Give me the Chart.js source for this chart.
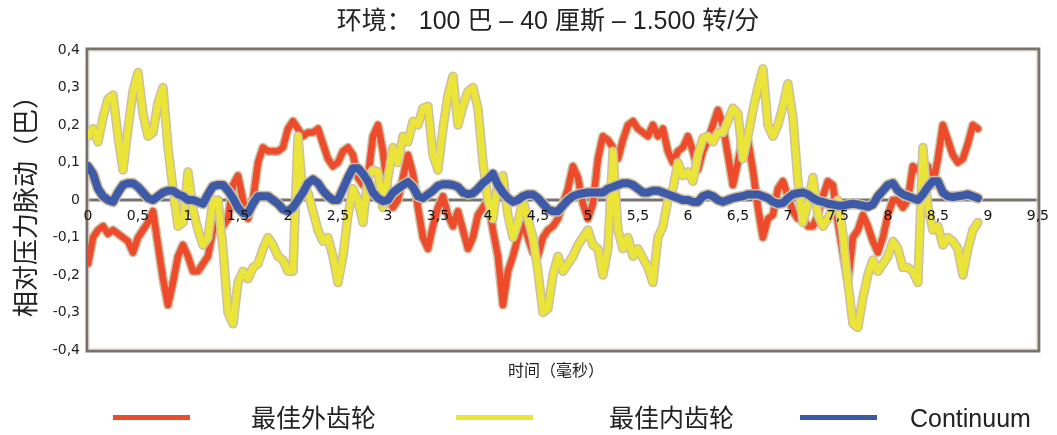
<!DOCTYPE html>
<html>
<head>
<meta charset="utf-8">
<script src="https://cdn.jsdelivr.net/npm/chart.js@4.4.0/dist/chart.umd.min.js"></script>
<style>
  html, body { margin: 0; padding: 0; background: #fff; }
  #wrap { position: relative; width: 1057px; height: 435px; }
  #legend { position: absolute; left: 0; top: 403px; width: 1057px; height: 30px;
    font-family: "Liberation Sans", "Noto Sans CJK SC", sans-serif; font-size: 25px; color: #222; }
  .swatch { position: absolute; top: 12px; width: 77px; height: 5px; }
  .label { position: absolute; top: 0; line-height: 30px; white-space: nowrap; }
</style>
</head>
<body>
<div id="wrap">
  <canvas id="chart" width="1057" height="435"></canvas>
  <div id="legend"></div>
</div>
<script>
const sampleStep = 0.05;

const outerGear = [
  -0.17,-0.10,-0.08,-0.07,-0.09,-0.08,-0.09,-0.10,-0.11,-0.14,
  -0.10,-0.08,-0.06,-0.03,-0.12,-0.21,-0.28,-0.22,-0.15,-0.12,
  -0.15,-0.19,-0.19,-0.17,-0.15,-0.08,-0.06,-0.07,-0.05,0.04,
  0.065,0.0,-0.05,0.0,0.10,0.14,0.13,0.13,0.13,0.14,
  0.19,0.21,0.19,0.17,0.18,0.18,0.19,0.15,0.11,0.09,
  0.10,0.13,0.14,0.12,0.06,0.04,0.06,0.17,0.20,0.13,
  0.02,-0.02,0.0,0.06,0.12,0.07,-0.02,-0.10,-0.13,-0.07,
  -0.02,0.01,-0.04,-0.07,-0.03,-0.08,-0.13,-0.10,-0.04,-0.02,
  0.0,-0.08,-0.15,-0.28,-0.19,-0.15,-0.10,-0.06,-0.10,-0.14,
  -0.15,-0.10,-0.08,-0.07,-0.05,-0.01,0.03,0.09,0.06,-0.01,
  -0.05,-0.01,0.11,0.17,0.16,0.14,0.11,0.16,0.20,0.21,
  0.19,0.18,0.17,0.20,0.17,0.19,0.13,0.10,0.13,0.14,
  0.17,0.13,0.08,0.13,0.16,0.20,0.24,0.20,0.12,0.04,
  0.10,0.17,0.16,0.08,-0.02,-0.10,-0.05,-0.04,0.03,0.05,
  0.01,-0.03,-0.05,-0.05,-0.07,-0.07,-0.04,0.01,0.05,0.04,
  -0.06,-0.14,-0.22,-0.10,-0.08,-0.04,-0.07,-0.11,-0.14,-0.10,
  -0.04,0.0,0.0,-0.02,0.0,0.09,0.08,0.10,0.09,0.04,
  0.11,0.20,0.16,0.12,0.10,0.11,0.15,0.20,0.19
];

const innerGear = [
  0.17,0.19,0.155,0.22,0.27,0.28,0.17,0.08,0.19,0.29,
  0.34,0.23,0.17,0.18,0.26,0.30,0.14,0.03,-0.07,-0.06,
  0.075,-0.025,-0.08,-0.12,-0.10,0.0,0.0,-0.13,-0.30,-0.33,
  -0.22,-0.19,-0.21,-0.18,-0.17,-0.13,-0.10,-0.12,-0.15,-0.16,
  -0.19,-0.19,0.17,0.01,0.02,-0.03,-0.08,-0.11,-0.10,-0.15,
  -0.22,-0.15,-0.04,0.03,0.0,-0.06,0.06,0.08,0.075,-0.02,
  0.06,0.14,0.10,0.17,0.155,0.21,0.20,0.245,0.25,0.12,
  0.08,0.19,0.28,0.33,0.20,0.25,0.29,0.30,0.245,0.10,
  0.0,-0.05,0.05,0.065,-0.04,-0.10,-0.06,0.0,-0.05,-0.10,
  -0.19,-0.30,-0.29,-0.20,-0.15,-0.19,-0.17,-0.15,-0.12,-0.10,
  -0.08,-0.12,-0.13,-0.20,-0.13,0.13,-0.08,-0.13,-0.10,-0.15,
  -0.13,-0.155,-0.18,-0.22,-0.10,-0.07,0.0,0.03,0.10,0.065,
  0.075,0.05,0.12,0.165,0.17,0.155,0.18,0.18,0.21,0.245,
  0.23,0.11,0.17,0.24,0.30,0.35,0.20,0.17,0.20,0.25,
  0.31,0.22,0.05,-0.06,-0.01,0.06,-0.04,-0.07,-0.05,-0.02,
  0.0,-0.09,-0.22,-0.33,-0.34,-0.26,-0.20,-0.16,-0.19,-0.17,
  -0.15,-0.11,-0.13,-0.18,-0.18,-0.19,-0.22,0.14,-0.02,-0.08,
  -0.07,-0.12,-0.10,-0.11,-0.13,-0.20,-0.13,-0.08,-0.06
];

const continuum = [
  0.09,0.07,0.03,0.01,0.0,-0.005,0.02,0.04,0.045,0.045,
  0.035,0.02,0.005,0.0,0.01,0.02,0.025,0.025,0.015,0.01,
  0.0,0.0,-0.005,-0.01,0.015,0.037,0.04,0.04,0.025,0.005,
  -0.02,-0.035,-0.035,-0.01,0.01,0.01,0.01,0.0,-0.01,-0.025,
  -0.03,-0.02,0.0,0.02,0.045,0.055,0.045,0.025,0.01,0.0,
  0.0,0.03,0.06,0.085,0.085,0.07,0.05,0.02,0.005,-0.003,
  0.0,0.02,0.03,0.04,0.048,0.035,0.01,0.005,0.015,0.025,
  0.038,0.042,0.042,0.04,0.035,0.02,0.015,0.018,0.03,0.045,
  0.056,0.07,0.04,0.02,0.005,-0.005,0.0,0.01,0.015,0.015,
  0.005,-0.01,-0.025,-0.03,-0.03,-0.015,0.0,0.01,0.015,0.018,
  0.02,0.02,0.02,0.02,0.03,0.035,0.04,0.045,0.045,0.04,
  0.03,0.02,0.02,0.025,0.025,0.02,0.015,0.01,0.005,0.0,
  0.0,-0.005,-0.005,0.01,0.015,0.01,0.0,-0.005,0.0,0.005,
  0.008,0.01,0.015,0.015,0.015,0.01,0.005,-0.005,-0.01,-0.008,
  0.005,0.015,0.018,0.02,0.015,0.005,-0.002,-0.005,-0.01,-0.012,
  -0.015,-0.015,-0.012,-0.01,-0.012,-0.015,-0.018,-0.012,0.01,0.025,
  0.04,0.045,0.025,0.015,0.01,0.005,0.0,0.015,0.035,0.05,
  0.05,0.02,0.01,0.008,0.01,0.012,0.015,0.01,0.005
];

const seriesNames = ['最佳外齿轮', '最佳内齿轮', 'Continuum'];
const seriesValues = [outerGear, innerGear, continuum];

const chartTitle = '环境： 100 巴 – 40 厘斯 – 1.500 转/分';
const xTitle = '时间（毫秒）';
const yTitle = '相对压力脉动（巴）';

// styling
const seriesColors = ['#ee4b2d', '#ebe53a', '#3d5aa9'];
const seriesWidths = [6.5, 6.5, 8];
const outlineColor = '#cdbf9f';
const frameColor = '#77726d';
const legendSwatchX = [113, 456, 800];
const legendTextX = [251, 609, 910];

const times = outerGear.map((_, i) => +(i * sampleStep).toFixed(2));
const commaNum = v => {
  const r = Math.round(v * 10) / 10;
  return r === 0 ? '0' : String(r).replace('.', ',');
};

// red below yellow below blue, each with a tan halo under it
const datasets = [];
seriesValues.forEach((vals, s) => {
  const pts = vals.map((v, i) => ({ x: times[i], y: v }));
  const base = 10 - s * 4;
  datasets.push({
    label: seriesNames[s] + ' outline',
    data: pts,
    borderColor: outlineColor,
    borderWidth: seriesWidths[s] + 3,
    order: base + 1
  });
  datasets.push({
    label: seriesNames[s],
    data: pts,
    borderColor: seriesColors[s],
    borderWidth: seriesWidths[s],
    order: base
  });
});

const framePlugin = {
  id: 'frame',
  beforeDatasetsDraw(chart) {
    // box and zero line sit under the curves, tick labels go on top of them
    const { ctx, chartArea: a, scales } = chart;
    const y0 = scales.y.getPixelForValue(0);
    ctx.save();
    ctx.strokeStyle = frameColor;
    ctx.lineWidth = 3;
    ctx.strokeRect(a.left - 1, a.top - 1, a.right - a.left + 2, a.bottom - a.top + 2);
    ctx.beginPath();
    ctx.moveTo(a.left, y0);
    ctx.lineTo(a.right, y0);
    ctx.stroke();
    ctx.strokeStyle = '#ddd3c4';
    ctx.lineWidth = 1;
    ctx.strokeRect(a.left + 1, a.top + 1, a.right - a.left - 2, a.bottom - a.top - 2);
    ctx.restore();
  },
  afterDraw(chart) {
    const { ctx } = chart;
    ctx.save();
    ctx.fillStyle = '#222';
    ctx.textAlign = 'center';
    ctx.textBaseline = 'middle';
    ctx.font = '25px "Liberation Sans", "Noto Sans CJK SC", sans-serif';
    ctx.fillText(chartTitle, 548, 22);
    ctx.font = '16px "Noto Sans CJK SC", sans-serif';
    ctx.fillText(xTitle, 556, 370);
    ctx.restore();
  }
};

new Chart(document.getElementById('chart'), {
  type: 'line',
  data: { datasets },
  options: {
    responsive: false,
    animation: false,
    layout: { padding: { top: 50, bottom: 85, left: 0, right: 10 } },
    elements: {
      point: { radius: 0 },
      line: { tension: 0, borderJoinStyle: 'round', borderCapStyle: 'round' }
    },
    plugins: {
      legend: { display: false },
      tooltip: { enabled: false }
    },
    scales: {
      x: {
        type: 'linear',
        min: 0,
        max: 9.5,
        position: { y: 0 },
        grid: { display: false, drawTicks: false },
        border: { display: false },
        ticks: {
          z: 1,
          stepSize: 0.5,
          padding: 8,
          autoSkip: false,
          maxRotation: 0,
          color: '#111',
          font: { family: 'DejaVu Sans', size: 14 },
          callback: commaNum
        }
      },
      y: {
        min: -0.4,
        max: 0.4,
        grid: { display: false, drawTicks: false },
        border: { display: false },
        ticks: {
          stepSize: 0.1,
          padding: 8,
          color: '#222',
          font: { family: 'DejaVu Sans', size: 14 },
          callback: commaNum
        },
        title: {
          display: true,
          text: yTitle,
          color: '#222',
          font: { family: 'Noto Sans CJK SC', size: 26 },
          padding: { top: 10, bottom: 4 }
        },
        afterFit(scale) { scale.width = 88; }
      }
    }
  },
  plugins: [framePlugin]
});

// legend under the chart, built from the same series lists
const legend = document.getElementById('legend');
seriesNames.forEach((name, s) => {
  const sw = document.createElement('div');
  sw.className = 'swatch';
  sw.style.left = legendSwatchX[s] + 'px';
  sw.style.background = seriesColors[s];
  legend.appendChild(sw);
  const lb = document.createElement('div');
  lb.className = 'label';
  lb.style.left = legendTextX[s] + 'px';
  lb.textContent = name;
  legend.appendChild(lb);
});
</script>
</body>
</html>
